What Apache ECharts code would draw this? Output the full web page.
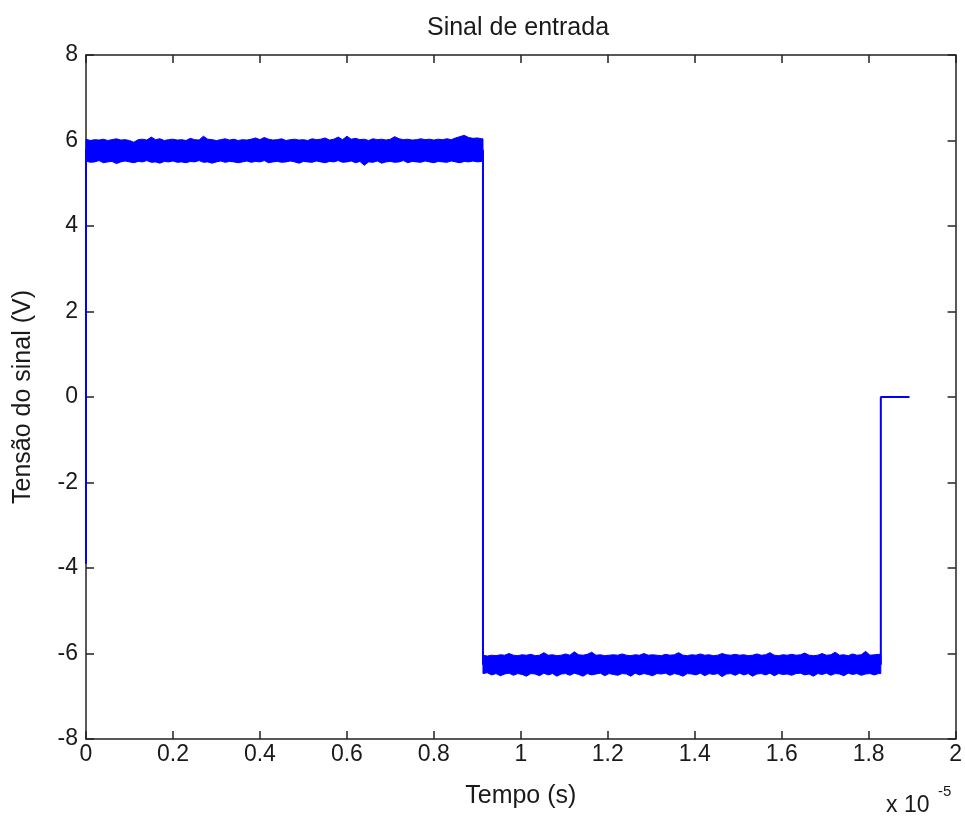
<!DOCTYPE html>
<html>
<head>
<meta charset="utf-8">
<script src="https://cdn.jsdelivr.net/npm/echarts@6/dist/echarts.min.js"></script>
<style>
html,body{margin:0;padding:0;background:#fff;}
#chart{width:965px;height:819px;}
</style>
</head>
<body>
<div id="chart"></div>
<script>
// Time in units of 1e-5 s
const titleText = 'Sinal de entrada';
const xName = 'Tempo (s)';
const yName = 'Tensão do sinal (V)';
const xTickLabels = ['0','0.2','0.4','0.6','0.8','1','1.2','1.4','1.6','1.8','2'];
const yTickLabels = ['-8','-6','-4','-2','0','2','4','6','8'];

// Step transitions of the signal (time, level)
const stepTimes  = [0,    0,    0.913, 0.913, 1.828, 1.828, 1.894];
const stepLevels = [-3.9, 5.77, 5.77,  -6.25, -6.25, 0,     0];

// Noise band envelopes, sampled every 0.01 (x1e-5 s)
const highStart = 0, highEnd = 0.913;
const highUpper = [
 6.03,6.00,6.02,6.01,6.03,6.00,6.02,6.04,6.01,6.02,
 6.00,5.96,6.02,6.03,6.01,6.08,6.02,6.04,6.00,6.02,
 6.03,6.01,6.02,6.00,6.05,6.02,6.01,6.10,6.03,6.02,
 6.00,6.02,6.04,6.01,6.03,6.00,6.02,6.01,6.03,6.06,
 6.02,6.07,6.03,6.01,6.02,6.04,6.00,6.02,6.03,6.01,
 6.02,6.00,6.04,6.02,6.03,6.06,6.01,6.03,6.08,6.02,
 6.10,6.03,6.05,6.02,6.03,6.00,6.04,6.02,6.03,6.01,
 6.03,6.09,6.04,6.02,6.03,6.01,6.02,6.04,6.02,6.03,
 6.01,6.03,6.02,6.04,6.02,6.06,6.09,6.12,6.07,6.05,
 6.06,6.04];
const highLower = [
 5.52,5.49,5.50,5.53,5.48,5.50,5.51,5.46,5.50,5.52,
 5.50,5.48,5.51,5.50,5.53,5.49,5.50,5.47,5.51,5.50,
 5.52,5.49,5.50,5.48,5.51,5.50,5.53,5.49,5.50,5.47,
 5.50,5.52,5.49,5.51,5.50,5.48,5.50,5.52,5.49,5.51,
 5.50,5.53,5.48,5.50,5.51,5.49,5.50,5.52,5.50,5.47,
 5.51,5.50,5.49,5.52,5.50,5.48,5.51,5.50,5.53,5.49,
 5.50,5.52,5.48,5.51,5.42,5.50,5.49,5.52,5.47,5.50,
 5.51,5.49,5.50,5.53,5.48,5.51,5.50,5.49,5.52,5.50,
 5.48,5.51,5.50,5.49,5.52,5.50,5.48,5.51,5.50,5.52,
 5.50,5.51];
const lowStart = 0.913, lowEnd = 1.828;
const lowUpper = [
 -6.04,-6.06,-6.04,-6.05,-6.03,-6.04,-6.00,-6.04,-6.05,-6.03,
 -6.04,-6.02,-6.05,-6.04,-5.98,-6.04,-6.03,-6.05,-6.04,-6.01,
 -6.04,-5.96,-6.03,-6.04,-6.02,-5.97,-6.04,-6.03,-6.05,-6.04,
 -6.03,-6.04,-6.01,-6.04,-6.05,-6.03,-6.04,-6.00,-6.04,-6.03,
 -6.04,-6.05,-6.02,-6.04,-6.03,-5.98,-6.04,-6.05,-6.03,-6.04,
 -6.01,-6.04,-6.03,-6.05,-6.04,-6.00,-6.03,-6.04,-6.02,-6.04,
 -6.03,-6.05,-6.04,-6.01,-6.04,-6.03,-5.98,-6.04,-6.05,-6.03,
 -6.04,-6.02,-6.04,-6.03,-5.99,-6.04,-6.05,-6.04,-6.00,-6.04,
 -6.03,-5.97,-6.04,-6.03,-6.05,-6.01,-6.04,-6.03,-5.95,-6.04,
 -6.03,-6.02];
const lowLower = [
 -6.47,-6.45,-6.50,-6.47,-6.52,-6.48,-6.46,-6.51,-6.47,-6.49,
 -6.53,-6.47,-6.48,-6.52,-6.46,-6.50,-6.47,-6.53,-6.48,-6.47,
 -6.51,-6.46,-6.49,-6.53,-6.47,-6.50,-6.48,-6.46,-6.52,-6.47,
 -6.49,-6.51,-6.47,-6.48,-6.53,-6.46,-6.50,-6.47,-6.49,-6.52,
 -6.47,-6.48,-6.46,-6.51,-6.47,-6.49,-6.53,-6.47,-6.48,-6.50,
 -6.46,-6.52,-6.47,-6.49,-6.47,-6.54,-6.48,-6.47,-6.51,-6.46,
 -6.50,-6.47,-6.53,-6.48,-6.47,-6.50,-6.46,-6.52,-6.47,-6.49,
 -6.48,-6.51,-6.47,-6.46,-6.50,-6.48,-6.53,-6.47,-6.49,-6.46,
 -6.51,-6.47,-6.48,-6.52,-6.46,-6.49,-6.47,-6.51,-6.48,-6.47,
 -6.50,-6.47];
const sampleStep = 0.01;

const bands = [
  {start: highStart, end: highEnd, upper: highUpper, lower: highLower},
  {start: lowStart,  end: lowEnd,  upper: lowUpper,  lower: lowLower}
];

const BLUE = '#0000ff';
const TXT = '#1a1a1a';
const FONT = 'Liberation Sans, Arial, sans-serif';
const FS_TICK = 23;
const FS_NAME = 25;

const chart = echarts.init(document.getElementById('chart'), null, {renderer: 'canvas'});

function bandPoints(b, api) {
  const pts = [];
  const n = b.upper.length;
  for (let i = 0; i < n; i++) {
    const t = Math.min(b.start + i * sampleStep, b.end);
    pts.push(api.coord([t, b.upper[i]]));
  }
  pts.push(api.coord([b.end, b.upper[n - 1]]));
  pts.push(api.coord([b.end, b.lower[n - 1]]));
  for (let i = n - 1; i >= 0; i--) {
    const t = Math.min(b.start + i * sampleStep, b.end);
    pts.push(api.coord([t, b.lower[i]]));
  }
  return pts;
}

const axisLineStyle = {color: '#222', width: 1.5};
const tickCommon = {show: true, inside: true, length: 8, lineStyle: {color: '#222', width: 1.5}};

const option = {
  animation: false,
  backgroundColor: '#fff',
  grid: {left: 86, right: 9, top: 55, bottom: 80, containLabel: false},
  xAxis: [{
    type: 'value', min: 0, max: 2, interval: 0.2, position: 'bottom',
    name: xName, nameLocation: 'middle', nameGap: 45,
    nameTextStyle: {color: TXT, fontSize: FS_NAME, fontFamily: FONT},
    axisLine: {show: true, onZero: false, lineStyle: axisLineStyle},
    axisTick: tickCommon,
    axisLabel: {color: TXT, fontSize: FS_TICK, fontFamily: FONT, margin: 4,
      formatter: (v) => xTickLabels[Math.round(v / 0.2)]},
    splitLine: {show: false}
  }, {
    type: 'value', min: 0, max: 2, interval: 0.2, position: 'top',
    axisLine: {show: true, onZero: false, lineStyle: axisLineStyle},
    axisTick: tickCommon, axisLabel: {show: false}, splitLine: {show: false}
  }],
  yAxis: [{
    type: 'value', min: -8, max: 8, interval: 2, position: 'left',
    name: yName, nameLocation: 'middle', nameGap: 50, nameRotate: 90,
    nameTextStyle: {color: TXT, fontSize: FS_NAME, fontFamily: FONT},
    axisLine: {show: true, onZero: false, lineStyle: axisLineStyle},
    axisTick: tickCommon,
    axisLabel: {color: TXT, fontSize: FS_TICK, fontFamily: FONT, margin: 8,
      formatter: (v) => yTickLabels[Math.round((v + 8) / 2)]},
    splitLine: {show: false}
  }, {
    type: 'value', min: -8, max: 8, interval: 2, position: 'right',
    axisLine: {show: true, onZero: false, lineStyle: axisLineStyle},
    axisTick: tickCommon, axisLabel: {show: false}, splitLine: {show: false}
  }],
  graphic: [
    {type: 'text', x: 518, y: 16, style: {text: titleText, fill: TXT, font: FS_NAME + 'px ' + FONT, textAlign: 'center', textVerticalAlign: 'top'}},
    {type: 'text', x: 886, y: 794, style: {text: 'x 10', fill: TXT, font: FS_TICK + 'px ' + FONT, textVerticalAlign: 'top'}},
    {type: 'text', x: 938, y: 784, style: {text: '-5', fill: TXT, font: '15px ' + FONT, textVerticalAlign: 'top'}}
  ],
  series: [{
    type: 'line',
    xAxisIndex: 0, yAxisIndex: 0,
    data: stepTimes.map((t, i) => [t, stepLevels[i]]),
    showSymbol: false, symbol: 'none',
    lineStyle: {color: BLUE, width: 2},
    z: 3
  }, {
    type: 'custom',
    xAxisIndex: 0, yAxisIndex: 0,
    data: [[0], [1]],
    renderItem: function (params, api) {
      const b = bands[params.dataIndex];
      return {
        type: 'polygon',
        shape: {points: bandPoints(b, api)},
        style: {fill: BLUE, stroke: BLUE, lineWidth: 1}
      };
    },
    z: 4
  }]
};
chart.setOption(option);
</script>
</body>
</html>
